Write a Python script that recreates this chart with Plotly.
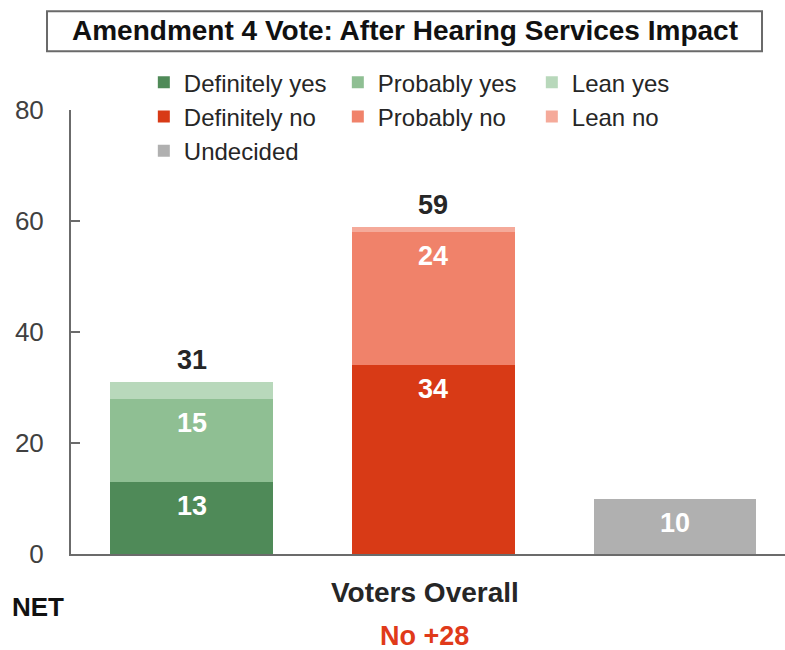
import plotly.graph_objects as go

# Survey results (percent of voters)
groups = ["Yes", "No", "Undecided"]
series_names = ["Definitely yes", "Probably yes", "Lean yes",
                "Definitely no", "Probably no", "Lean no", "Undecided"]
series_group = ["Yes", "Yes", "Yes", "No", "No", "No", "Undecided"]
series_values = [13, 15, 3, 34, 24, 1, 10]
series_colors = ["#4f8a58", "#8fbf93", "#b8d8bb",
                 "#d83a16", "#f0826a", "#f5aa9a", "#b0b0b0"]
labelled = [True, True, False, True, True, False, True]

title_text = "Amendment 4 Vote: After Hearing Services Impact"
category_label = "Voters Overall"

FONT = "Liberation Sans, Arial, sans-serif"
DARK = "#262626"

fig = go.Figure()
for name, grp, val, col in zip(series_names, series_group, series_values, series_colors):
    fig.add_trace(go.Bar(
        name=name, x=[grp], y=[val], marker=dict(color=col, line=dict(width=0)),
        width=0.674, hoverinfo="skip",
    ))

annotations = []
# segment labels near the top of each segment, stack totals above
tops = {g: 0 for g in groups}
for grp, val, show in zip(series_group, series_values, labelled):
    tops[grp] += val
    if show:
        annotations.append(dict(
            x=grp, y=tops[grp], xref="x", yref="y", text=f"<b>{val}</b>",
            showarrow=False, yanchor="top", yshift=-7,
            font=dict(family=FONT, size=27, color="white"),
        ))
totals = {}
for grp in ["Yes", "No"]:
    totals[grp] = sum(v for g, v in zip(series_group, series_values) if g == grp)
    annotations.append(dict(
        x=grp, y=totals[grp], xref="x", yref="y", text=f"<b>{totals[grp]}</b>",
        showarrow=False, yanchor="bottom", yshift=5,
        font=dict(family=FONT, size=27, color=DARK),
    ))

net = totals["No"] - totals["Yes"]
lead = "No" if net > 0 else "Yes"

annotations += [
    dict(x=0.4675, y=1.178, xref="paper", yref="paper", text=f"<b>{title_text}</b>",
         showarrow=False, xanchor="center", yanchor="middle",
         font=dict(family=FONT, size=28, color="#111111")),
    dict(x="No", y=-0.087, xref="x", yref="paper", text=f"<b>{category_label}</b>",
         showarrow=False, xanchor="center", yanchor="middle", xshift=-8,
         font=dict(family=FONT, size=28, color=DARK)),
    dict(x="No", y=-0.185, xref="x", yref="paper", text=f"<b>{lead} +{abs(net)}</b>",
         showarrow=False, xanchor="center", yanchor="middle", xshift=-9,
         font=dict(family=FONT, size=27, color="#e03a1a")),
    dict(x=-0.085, y=-0.12, xref="paper", yref="paper", text="<b>NET</b>",
         showarrow=False, xanchor="left", yanchor="middle",
         font=dict(family=FONT, size=26, color="#111111")),
]

fig.update_layout(
    width=785, height=650,
    margin=dict(l=71, r=0, t=110, b=96),
    paper_bgcolor="white", plot_bgcolor="white",
    barmode="stack",
    font=dict(family=FONT, color=DARK),
    showlegend=True,
    legend=dict(
        orientation="h", x=0.102, y=1.112, xanchor="left", yanchor="top",
        entrywidth=149, entrywidthmode="pixels",
        font=dict(family=FONT, size=24, color=DARK),
        bgcolor="rgba(0,0,0,0)", traceorder="normal",
        itemclick=False, itemdoubleclick=False,
    ),
    annotations=annotations,
    shapes=[dict(
        type="rect", xref="paper", yref="paper",
        x0=-0.0336, x1=0.9678, y0=1.1324, y1=1.2226,
        line=dict(color="#6a6a6a", width=2), fillcolor="rgba(0,0,0,0)",
    )],
    xaxis=dict(
        categoryorder="array", categoryarray=groups,
        range=[-0.5, 2.455], showticklabels=False, ticks="",
        showline=True, linecolor="#6b6b6b", linewidth=2,
        showgrid=False, zeroline=False, fixedrange=True,
    ),
    yaxis=dict(
        range=[0, 80], tickvals=[0, 20, 40, 60, 80],
        showline=True, linecolor="#6b6b6b", linewidth=2,
        ticks="inside", ticklen=9, tickwidth=2, tickcolor="#6b6b6b",
        ticklabelstandoff=20,
        tickfont=dict(family=FONT, size=26, color="#404040"),
        showgrid=False, zeroline=False, fixedrange=True,
    ),
)

fig.write_html("out.html")
